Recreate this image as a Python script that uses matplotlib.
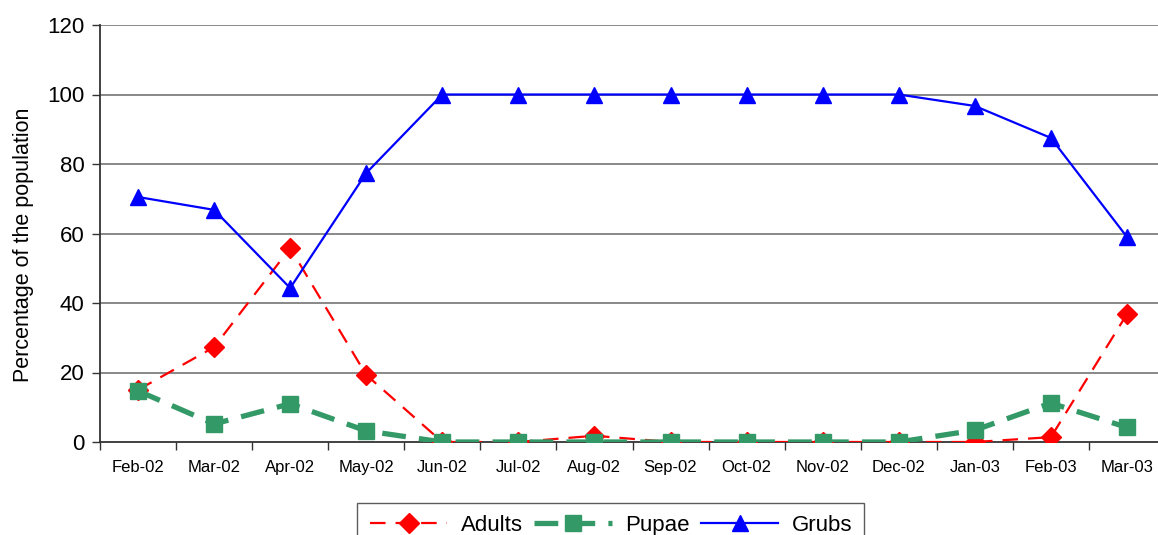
import matplotlib
matplotlib.use("Agg")
import matplotlib.pyplot as plt
import numpy as np

months = ["Feb-02", "Mar-02", "Apr-02", "May-02", "Jun-02", "Jul-02", "Aug-02",
          "Sep-02", "Oct-02", "Nov-02", "Dec-02", "Jan-03", "Feb-03", "Mar-03"]
adults = [15.0, 27.3, 55.8, 19.3, 0, 0, 1.8, 0, 0, 0, 0, 0, 1.4, 36.8]
pupae = [14.7, 5.2, 11.0, 3.2, 0, 0, 0, 0, 0, 0, 0, 3.4, 11.2, 4.2]
grubs = [70.5, 66.8, 44.3, 77.4, 100, 100, 100, 100, 100, 100, 100, 96.7, 87.5, 59.0]
y_ticks = [0, 20, 40, 60, 80, 100, 120]

plt.rcParams["font.family"] = ["Liberation Sans", "DejaVu Sans"]

fig = plt.figure(figsize=(11.58, 5.35), dpi=100)
ax = fig.add_axes([100 / 1158, 1 - 442 / 535, 1065 / 1158, 417 / 535])

x = np.arange(len(months))

ax.plot(x, adults, color="#FF0000", lw=1.6, dashes=(7, 4.5),
        marker="D", markersize=10, label="Adults", zorder=3)
ax.plot(x, pupae, color="#339966", lw=3.8, dashes=(4.5, 2.5),
        marker="s", markersize=12, label="Pupae", zorder=4)
ax.plot(x, grubs, color="#0000FF", lw=1.6,
        marker="^", markersize=11, label="Grubs", zorder=5)

ax.set_xlim(-0.5, len(months) - 0.5)
ax.set_ylim(0, 120)
ax.set_yticks(y_ticks)
ax.set_xticks(x)
ax.set_xticklabels(months, fontsize=12)
ax.set_xticks(np.arange(len(months) + 1) - 0.5, minor=True)
ax.tick_params(axis="x", which="major", length=0, pad=13)
ax.tick_params(axis="x", which="minor", length=6, width=1, color="#333333", direction="out")
ax.tick_params(axis="y", length=6, width=1, color="#333333", labelsize=16, pad=5)

for v in y_ticks[1:]:
    ax.axhline(v, color="#7f7f7f", lw=1.3, zorder=1)

for side in ["top", "right"]:
    ax.spines[side].set_visible(False)
for side in ["left", "bottom"]:
    ax.spines[side].set_color("#333333")
    ax.spines[side].set_linewidth(1.3)

ax.set_ylabel("Percentage of the population", fontsize=15.5)
ax.yaxis.set_label_coords(-66 / 1065, 0.472)

leg = fig.legend(loc="upper center", bbox_to_anchor=(611 / 1158, 1 - 503 / 535),
                 ncol=3, fontsize=16, frameon=True, fancybox=False,
                 edgecolor="#333333", handlelength=3.5, columnspacing=0.5,
                 handletextpad=0.6, borderpad=0.55, borderaxespad=0)
leg.get_frame().set_linewidth(1.0)

fig.savefig("out.png", dpi=100)
